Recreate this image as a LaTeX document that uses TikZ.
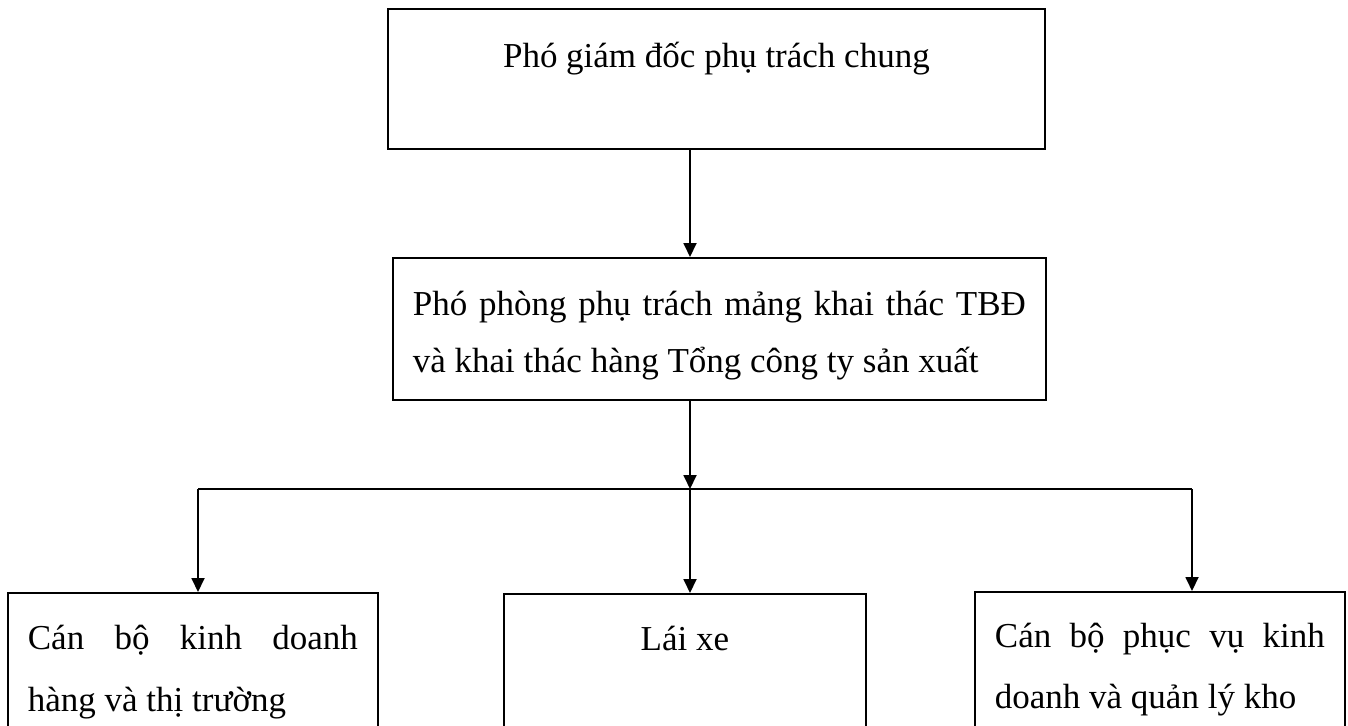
\documentclass[tikz,border=0pt]{standalone}
\usepackage{fontspec}
\setmainfont{Liberation Serif}
\usetikzlibrary{arrows.meta}
\tikzset{
  box/.style={draw, line width=0.9pt, inner ysep=0pt, inner xsep=10pt, anchor=north west},
  conn/.style={line width=0.9pt},
  arr/.style={line width=0.9pt, -{Triangle[length=7pt,width=6.5pt]}}
}
\begin{document}
\begin{tikzpicture}[x=0.5pt,y=-0.5pt]
\useasboundingbox (0,0) rectangle (1348,725);
\clip (0,0) rectangle (1348,725);
\fill[white] (0,0) rectangle (1348,725);
% boxes
\node[box, inner xsep=0pt] (top) at (387,8)
  {\parbox[t][70pt][t]{328.5pt}{\fontsize{17.5}{28.5}\selectfont\centering\rule{0pt}{29.5pt}Phó giám đốc phụ trách chung}};
\node[box] (mid) at (392,257)
  {\parbox[t][71pt][t]{306.5pt}{\fontsize{17.5}{28.5}\selectfont\rule{0pt}{29pt}Phó phòng phụ trách mảng khai thác TBĐ\linebreak và khai thác hàng Tổng công ty sản xuất}};
\node[box] (lb) at (7,592)
  {\parbox[t][110pt][t]{165pt}{\fontsize{17.5}{31}\selectfont\rule{0pt}{28.5pt}Cán bộ kinh doanh\linebreak hàng và thị trường}};
\node[box, inner xsep=0pt] (cb) at (503,593)
  {\parbox[t][110pt][t]{181pt}{\fontsize{17.5}{31}\selectfont\centering\rule{0pt}{28.5pt}Lái xe}};
\node[box] (rb) at (974,591)
  {\parbox[t][110pt][t]{165pt}{\fontsize{17.5}{30.5}\selectfont\rule{0pt}{28pt}Cán bộ phục vụ kinh\linebreak doanh và quản lý kho}};
% junctions
\coordinate (jl) at (198,489);
\coordinate (j) at (690,489);
\coordinate (jr) at (1192,489);
% connectors
\draw[arr] (top.south -| j) -- (mid.north -| j);
\draw[arr] (mid.south -| j) -- (j);
\draw[conn] (jl) -- (jr);
\draw[arr] (jl) -- (lb.north -| jl);
\draw[arr] (j) -- (cb.north -| j);
\draw[arr] (jr) -- (rb.north -| jr);
\end{tikzpicture}
\end{document}
